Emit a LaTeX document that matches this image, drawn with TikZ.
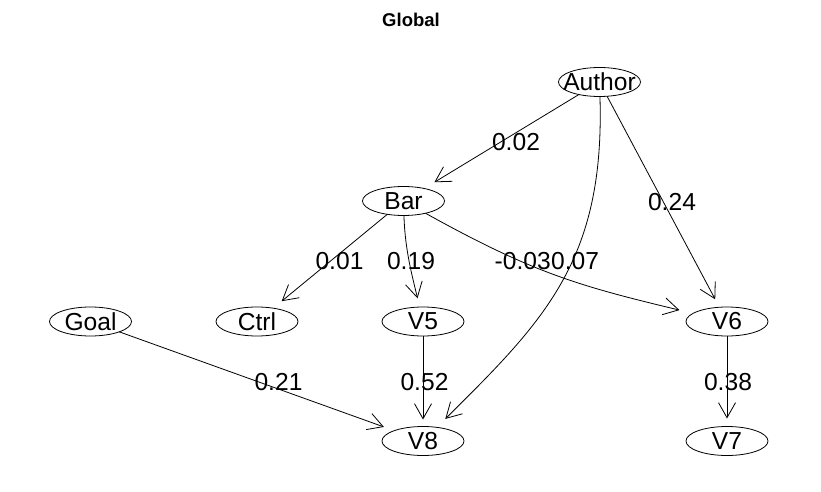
\documentclass[tikz,border=0pt]{standalone}
\usepackage{fontspec}
\setmainfont{Liberation Sans}
\usetikzlibrary{shapes.geometric,arrows.meta}
\newcommand\glabfont{\fontsize{24.6}{29}\selectfont}
\newcommand\gtitlefont{\fontsize{18.5}{22}\selectfont\bfseries}
\begin{document}
\begin{tikzpicture}[x=1pt,y=-1pt,
  vnode/.style={ellipse,draw,line width=0.8pt,minimum width=82pt,minimum height=29pt,inner sep=0pt,outer sep=0pt},
  every label/.style={font=\glabfont,inner sep=0pt},
  elab/.style={font=\glabfont,inner sep=0pt},
  conn/.style={line width=0.8pt,-{Straight Barb[length=15pt,width=17pt]}},
]
\useasboundingbox[fill=white] (0,0) rectangle (821,492);
\node[font=\gtitlefont,inner sep=0pt] (title) at (411,20) {Global};
\node[vnode,label={center:Author}] (Author) at (599.5,82) {};
\node[vnode,label={center:Bar}] (Bar) at (403.5,201) {};
\node[vnode,label={center:Goal}] (Goal) at (90.5,321.5) {};
\node[vnode,label={center:Ctrl}] (Ctrl) at (257,321.5) {};
\node[vnode,label={center:V5}] (V5) at (423,321.5) {};
\node[vnode,label={center:V6}] (V6) at (727,321.5) {};
\node[vnode,label={center:V8}] (V8) at (423,441) {};
\node[vnode,label={center:V7}] (V7) at (727,441) {};

\draw[conn,shorten >=12pt] (Author) -- (Bar);
\draw[conn,shorten >=9pt] (Author) -- (V6);
\draw[conn,shorten >=12pt] (Author) .. controls (605,260) and (545,320) .. (V8);
\draw[conn,shorten >=11pt] (Bar) -- (Ctrl);
\draw[conn,shorten >=9pt] (Bar) .. controls (405,250) and (412,275) .. (V5);
\draw[conn,shorten >=14pt] (Bar) .. controls (533,273) and (579,286) .. (V6);
\draw[conn,shorten >=11pt] (Goal) -- (V8);
\draw[conn,shorten >=7pt] (V5) -- (V8);
\draw[conn,shorten >=8pt] (V6) -- (V7);

\node[elab] (l1) at (516,142) {0.02};
\node[elab] (l2) at (672,202) {0.24};
\node[elab] (l3) at (339.5,261) {0.01};
\node[elab] (l4) at (411,261) {0.19};
\node[elab,anchor=east] (l5) at (551,261) {-0.03};
\node[elab,anchor=west] (l6) at (551,261) {0.07};
\node[elab] (l7) at (278.5,382) {0.21};
\node[elab] (l8) at (424.5,382) {0.52};
\node[elab] (l9) at (728,382) {0.38};
\end{tikzpicture}
\end{document}
